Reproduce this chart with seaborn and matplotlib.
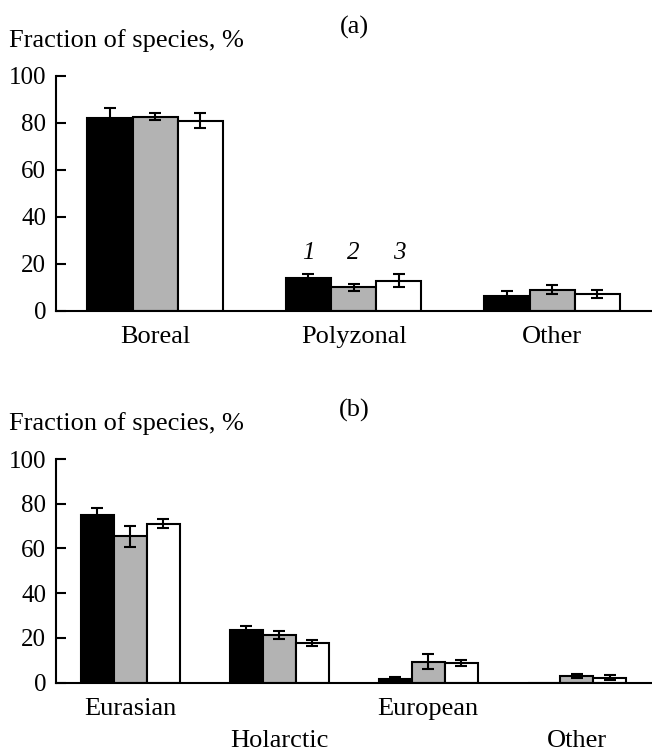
import pandas as pd
import numpy as np
import matplotlib
matplotlib.use('Agg')
import matplotlib.pyplot as plt
import seaborn as sns

#-------Settings

sns.set_theme(style="white")
plt.rcParams['font.family'] = ['Liberation Serif', 'DejaVu Serif']
plt.rcParams['text.color'] = 'black'
plt.rcParams['xtick.color'] = 'black'
plt.rcParams['ytick.color'] = 'black'

FS_NUM = 18
FS_TXT = 19
groups = ['1', '2', '3']
colors = ['#000000', '#b3b3b3', '#ffffff']

#------Data, panel (a): zonal groups

zone_cats = ['Boreal', 'Polyzonal', 'Other']
zone_black = [82.0, 13.8, 6.2]
zone_gray = [82.7, 9.9, 8.9]
zone_white = [81.0, 12.8, 7.2]
zone_err_black = [4.5, 2.0, 2.3]
zone_err_gray = [1.4, 1.4, 1.9]
zone_err_white = [3.2, 2.7, 1.7]

#------Data, panel (b): range groups

range_cats = ['Eurasian', 'Holarctic', 'European', 'Other']
range_labels = ['Eurasian', '\nHolarctic', 'European', '\nOther']
range_black = [74.8, 23.4, 1.5, 0.0]
range_gray = [65.4, 21.5, 9.4, 3.0]
range_white = [71.1, 17.9, 8.9, 2.2]
range_err_black = [3.4, 2.1, 1.2, np.nan]
range_err_gray = [4.6, 1.8, 3.4, 0.8]
range_err_white = [1.9, 1.4, 1.4, 1.2]


def long_table(cats, series):
    rows = []
    for g, vals in zip(groups, series):
        for c, v in zip(cats, vals):
            rows.append({'cat': c, 'group': g, 'value': v})
    return pd.DataFrame(rows)


def draw_panel(ax, cats, labels, series, errs, width):
    df = long_table(cats, series)
    sns.barplot(data=df, x='cat', y='value', hue='group', order=cats,
                hue_order=groups, palette=colors, saturation=1,
                edgecolor='black', linewidth=1.5, width=width,
                errorbar=None, legend=False, ax=ax)
    for cont, e in zip(ax.containers, errs):
        xs = [b.get_x() + b.get_width() / 2 for b in cont]
        ys = [b.get_height() for b in cont]
        ax.errorbar(xs, ys, yerr=e, fmt='none', ecolor='black',
                    elinewidth=1.5, capsize=4.5, capthick=1.5, zorder=5)
    n = len(cats)
    ax.set_xlim(-0.5, n - 0.5)
    ax.set_ylim(0, 100)
    ax.set_yticks([0, 20, 40, 60, 80, 100])
    ax.set_xticks(np.arange(n) + 0.5)
    ax.set_xticklabels([''] * n)
    ax.set_xticks(np.arange(n), minor=True)
    ax.set_xticklabels(labels, minor=True, fontsize=FS_TXT, va='top',
                       linespacing=1.6)
    ax.tick_params(axis='x', which='major', direction='in', length=7.5,
                   width=1.5, color='black')
    ax.tick_params(axis='x', which='minor', length=0, pad=11)
    ax.tick_params(axis='y', direction='in', length=7.5, width=1.5,
                   color='black', labelsize=FS_NUM, pad=7, left=True)
    ax.set_xlabel('')
    ax.set_ylabel('')
    ax.grid(False)
    for s in ['top', 'right']:
        ax.spines[s].set_visible(False)
    for s in ['left', 'bottom']:
        ax.spines[s].set_color('black')
        ax.spines[s].set_linewidth(1.5)
    ax.set_facecolor('white')


fig = plt.figure(figsize=(6.52, 7.52), dpi=100)
ax1 = fig.add_axes([56 / 652, 1 - 310.7 / 752, 1 - 56 / 652 - 0.001, (310.7 - 76) / 752])
ax2 = fig.add_axes([56 / 652, 1 - 682.7 / 752, 1 - 56 / 652 - 0.001, (682.7 - 459) / 752])

draw_panel(ax1, zone_cats, zone_cats, [zone_black, zone_gray, zone_white],
           [zone_err_black, zone_err_gray, zone_err_white], 0.683)
draw_panel(ax2, range_cats, range_labels, [range_black, range_gray, range_white],
           [range_err_black, range_err_gray, range_err_white], 0.664)

# series numbers above the Polyzonal bars
for cont, g in zip(ax1.containers, groups):
    b = cont[1]
    ax1.text(b.get_x() + b.get_width() / 2, 24.5, g, ha='center', va='center',
             fontsize=FS_NUM, style='italic')

fig.text(9 / 652, 1 - 41 / 752, 'Fraction of species, %', ha='left', va='center', fontsize=FS_TXT)
fig.text(354 / 652, 1 - 27 / 752, '(a)', ha='center', va='center', fontsize=FS_TXT)
fig.text(9 / 652, 1 - 424 / 752, 'Fraction of species, %', ha='left', va='center', fontsize=FS_TXT)
fig.text(354 / 652, 1 - 410 / 752, '(b)', ha='center', va='center', fontsize=FS_TXT)

fig.savefig('out.png', dpi=100, facecolor='white')
